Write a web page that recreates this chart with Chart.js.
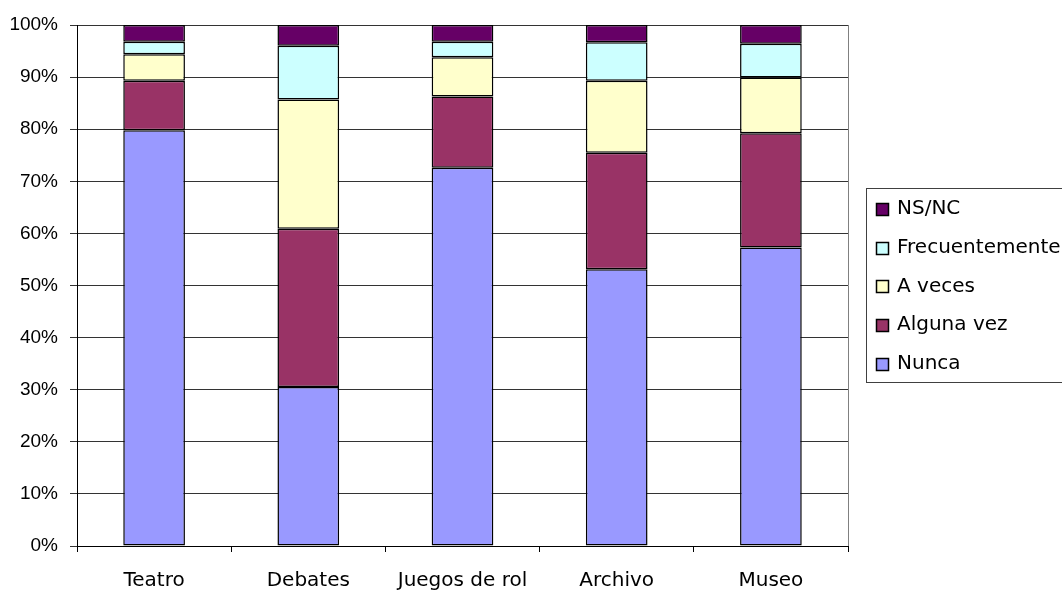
<!DOCTYPE html>
<html>
<head>
<meta charset="utf-8">
<script src="https://cdn.jsdelivr.net/npm/chart.js@4"></script>
<style>
html,body{margin:0;padding:0;background:#fff;}
#wrap{width:1062px;height:591px;position:relative;}
</style>
</head>
<body>
<div id="wrap"><canvas id="c" width="1062" height="591"></canvas></div>
<script>
const categories = ['Teatro', 'Debates', 'Juegos de rol', 'Archivo', 'Museo'];
const nunca          = [79.8, 30.5, 72.6, 53.1, 57.3];
const algunaVez      = [9.5, 30.4, 13.7, 22.4, 21.9];
const aVeces         = [5.1, 24.8, 7.5, 13.8, 10.7];
const frecuentemente = [2.4, 10.3, 3.0, 7.4, 6.5];
const nsnc           = [3.2, 4.0, 3.2, 3.3, 3.6];
const yTicks = [0, 10, 20, 30, 40, 50, 60, 70, 80, 90, 100];

const mk = (label, data, color) => ({
  label, data, backgroundColor: color, borderColor: '#000', borderWidth: 1.5,
  borderSkipped: false, barPercentage: 0.4, categoryPercentage: 1.0
});

const bgPlugin = {
  id: 'bg',
  beforeDraw(chart) {
    const ctx = chart.ctx;
    ctx.save();
    ctx.fillStyle = '#fff';
    ctx.fillRect(0, 0, chart.width, chart.height);
    ctx.restore();
  },
  afterDraw(chart) {
    const ctx = chart.ctx, a = chart.chartArea;
    ctx.save();
    ctx.strokeStyle = '#808080';
    ctx.lineWidth = 1;
    ctx.beginPath();
    ctx.moveTo(Math.round(a.right) + 0.5, a.top);
    ctx.lineTo(Math.round(a.right) + 0.5, a.bottom);
    ctx.stroke();

    // legend
    const bx = 866.5, by = 188.5, bw = 210, bh = 194;
    ctx.strokeStyle = '#404040';
    ctx.strokeRect(bx, by, bw, bh);
    const ds = chart.data.datasets.slice().reverse();
    ctx.font = '20px "DejaVu Sans"';
    ctx.textBaseline = 'middle';
    ctx.textAlign = 'left';
    ds.forEach((d, i) => {
      const cy = 209 + i * 38.7;
      ctx.fillStyle = d.backgroundColor;
      ctx.fillRect(876, Math.round(cy) - 6, 12, 12);
      ctx.strokeStyle = '#000';
      ctx.lineWidth = 1.5;
      ctx.strokeRect(876.5, Math.round(cy) - 5.5, 12, 12);
      ctx.fillStyle = '#000';
      ctx.fillText(d.label, 897, cy);
    });
    ctx.restore();
  }
};

new Chart(document.getElementById('c'), {
  type: 'bar',
  data: {
    labels: categories,
    datasets: [
      mk('Nunca', nunca, '#9999FF'),
      mk('Alguna vez', algunaVez, '#993366'),
      mk('A veces', aVeces, '#FFFFCC'),
      mk('Frecuentemente', frecuentemente, '#CCFFFF'),
      mk('NS/NC', nsnc, '#660066')
    ]
  },
  options: {
    responsive: false,
    animation: false,
    events: [],
    layout: { padding: { left: 0, top: 25, right: 214, bottom: 0 } },
    plugins: { legend: { display: false }, tooltip: { enabled: false } },
    scales: {
      x: {
        stacked: true,
        offset: true,
        grid: { offset: true, drawOnChartArea: false, drawTicks: true, tickLength: 6, color: '#000' },
        border: { color: '#000', width: 1 },
        ticks: { color: '#000', font: { family: 'DejaVu Sans', size: 20 }, padding: 17, maxRotation: 0, autoSkip: false },
        afterFit(s) { s.height = 45; }
      },
      y: {
        stacked: true,
        min: 0, max: 100,
        afterBuildTicks(s) { s.ticks = yTicks.map(v => ({ value: v })); },
        grid: { color: '#333', tickLength: 7, drawTicks: true },
        border: { color: '#000', width: 1 },
        ticks: { color: '#000', font: { family: 'Liberation Sans', size: 19 }, padding: 12, callback: v => v + '%' },
        afterFit(s) { s.width = 77; }
      }
    }
  },
  plugins: [bgPlugin]
});
</script>
</body>
</html>
